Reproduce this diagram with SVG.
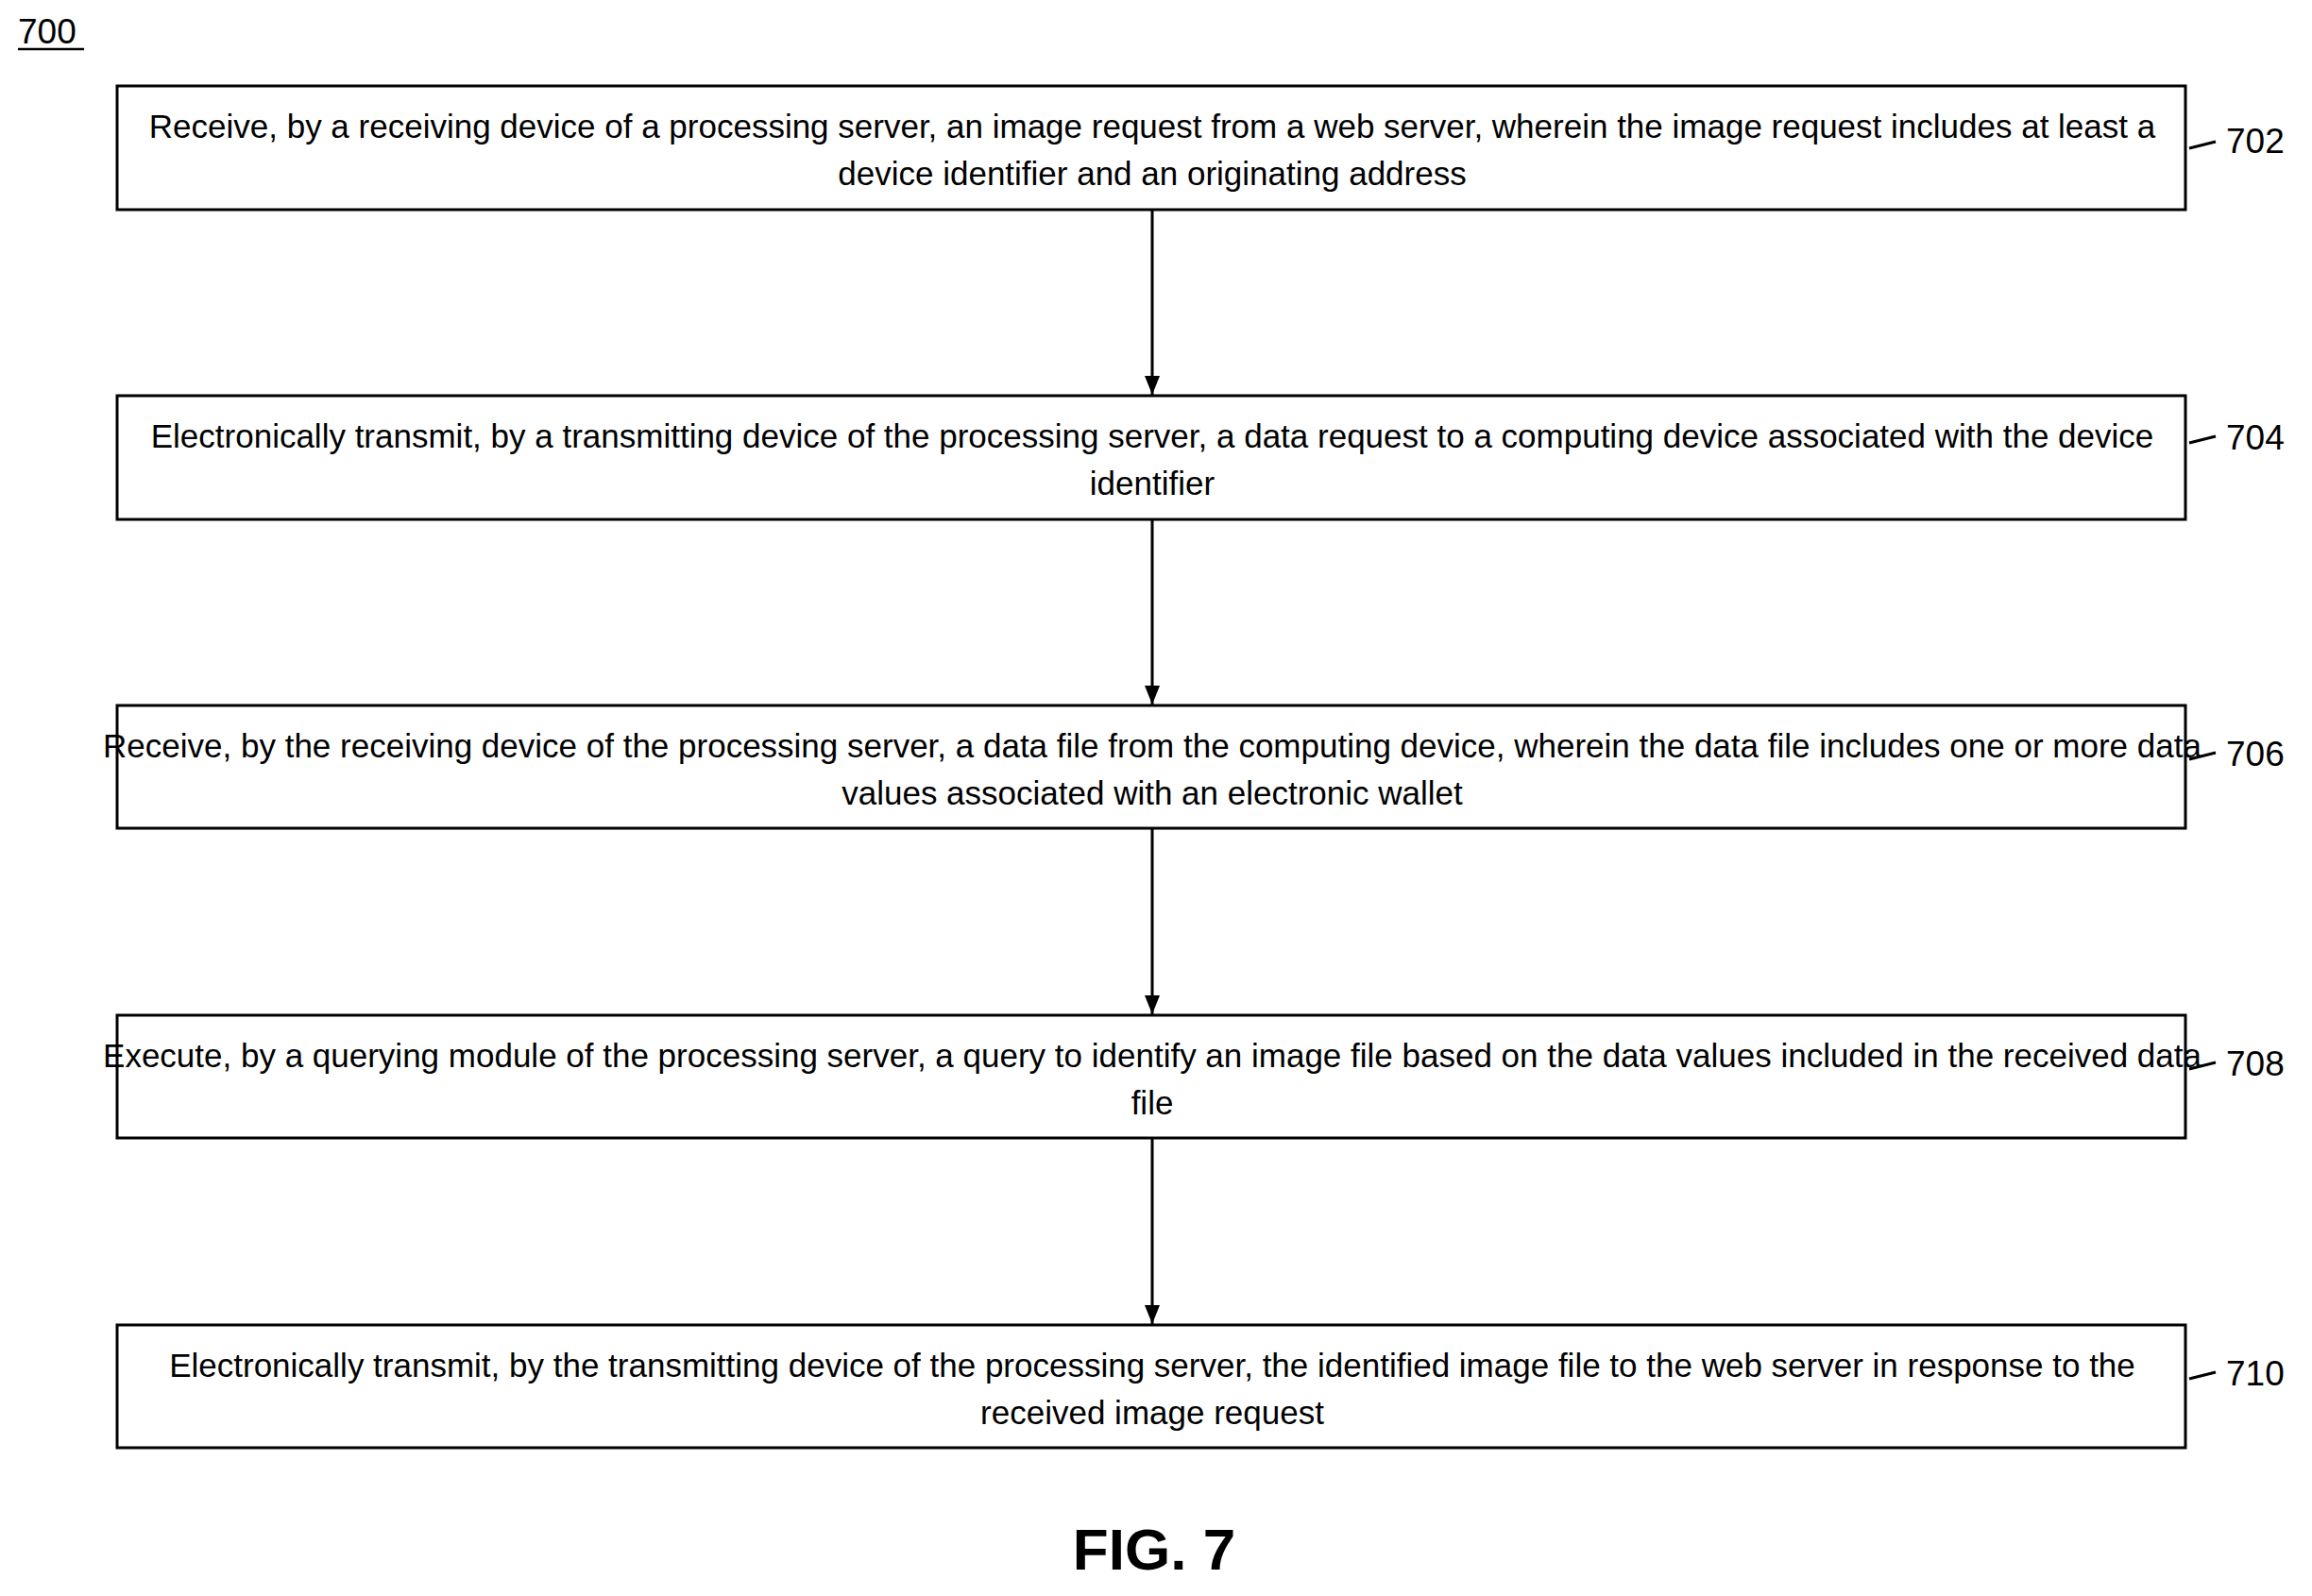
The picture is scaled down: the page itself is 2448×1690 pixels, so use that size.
<svg xmlns="http://www.w3.org/2000/svg" width="2448" height="1690" viewBox="0 0 2448 1690">
<style>
.b{fill:#fff;stroke:#000;stroke-width:3}
.t{font-family:"Liberation Sans",Arial,sans-serif;font-size:35px;text-anchor:middle;fill:#000}
.l{font-family:"Liberation Sans",Arial,sans-serif;font-size:37px;fill:#000}
.c{stroke:#000;stroke-width:3;fill:none}
</style>
<defs><marker id="a" markerWidth="10" markerHeight="10" refX="9" refY="5" orient="auto" markerUnits="userSpaceOnUse" viewBox="0 0 10 10"><path d="M0,0 L10,5 L0,10 z" transform="scale(1)"/></marker>
<marker id="ah" viewBox="0 0 20 20" refX="20" refY="10" markerWidth="20" markerHeight="20" orient="auto" markerUnits="userSpaceOnUse"><path d="M0,2 L20,10 L0,18 z"/></marker></defs>
<rect width="2448" height="1690" fill="#fff"/>
<g id="title"><text class="l" x="19" y="46">700</text><line x1="19" y1="52" x2="89" y2="52" stroke="#000" stroke-width="2.5"/></g>
<g id="connectors">
<line class="c" x1="1220" y1="222" x2="1220" y2="418" marker-end="url(#ah)"/>
<line class="c" x1="1220" y1="550" x2="1220" y2="746" marker-end="url(#ah)"/>
<line class="c" x1="1220" y1="877" x2="1220" y2="1074" marker-end="url(#ah)"/>
<line class="c" x1="1220" y1="1205" x2="1220" y2="1402" marker-end="url(#ah)"/>
<path class="c" d="M2318,157 L2346,150 M2318,469 L2346,462 M2318,804 L2346,797 M2318,1132 L2346,1125 M2318,1460 L2346,1453" stroke-width="2.5"/>
</g>
<g id="n702"><rect class="b" x="124" y="91" width="2190" height="131"/>
<text class="t" x="1220" y="146">Receive, by a receiving device of a processing server, an image request from a web server, wherein the image request includes at least a</text>
<text class="t" x="1220" y="196">device identifier and an originating address</text>
<text class="l" x="2357" y="162">702</text></g>
<g id="n704"><rect class="b" x="124" y="419" width="2190" height="131"/>
<text class="t" x="1220" y="474">Electronically transmit, by a transmitting device of the processing server, a data request to a computing device associated with the device</text>
<text class="t" x="1220" y="524">identifier</text>
<text class="l" x="2357" y="476">704</text></g>
<g id="n706"><rect class="b" x="124" y="747" width="2190" height="130"/>
<text class="t" x="1220" y="802">Receive, by the receiving device of the processing server, a data file from the computing device, wherein the data file includes one or more data</text>
<text class="t" x="1220" y="852">values associated with an electronic wallet</text>
<text class="l" x="2357" y="811">706</text></g>
<g id="n708"><rect class="b" x="124" y="1075" width="2190" height="130"/>
<text class="t" x="1220" y="1130">Execute, by a querying module of the processing server, a query to identify an image file based on the data values included in the received data</text>
<text class="t" x="1220" y="1180">file</text>
<text class="l" x="2357" y="1139">708</text></g>
<g id="n710"><rect class="b" x="124" y="1403" width="2190" height="130"/>
<text class="t" x="1220" y="1458">Electronically transmit, by the transmitting device of the processing server, the identified image file to the web server in response to the</text>
<text class="t" x="1220" y="1508">received image request</text>
<text class="l" x="2357" y="1467">710</text></g>
<text x="1222" y="1662" font-family="Liberation Sans,Arial,sans-serif" font-size="62" font-weight="bold" text-anchor="middle">FIG. 7</text>
</svg>
